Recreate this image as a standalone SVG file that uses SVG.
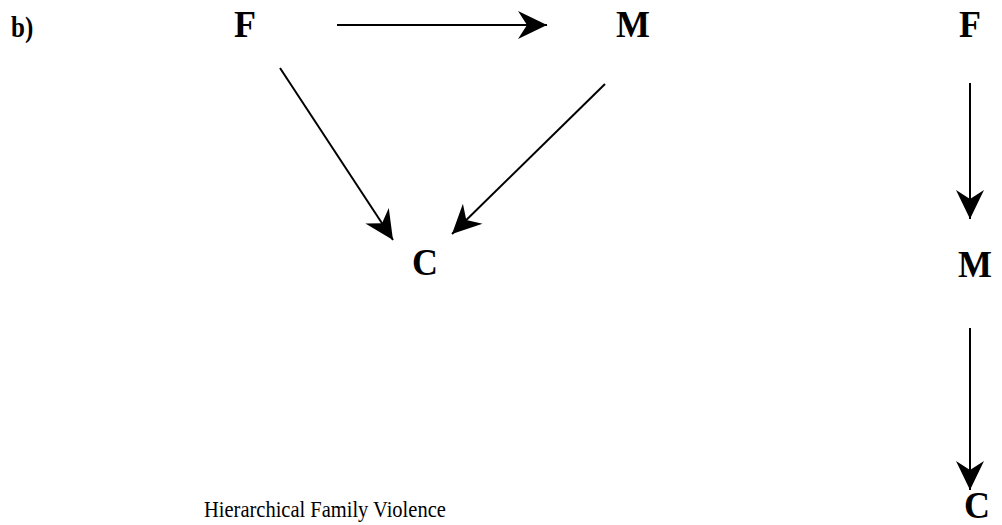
<svg xmlns="http://www.w3.org/2000/svg" width="1002" height="525" viewBox="0 0 1002 525">
<style>
.n{font-family:"Liberation Serif","Times New Roman",serif;font-weight:bold;font-size:36px;fill:#000}
.lbl{font-family:"Liberation Serif","Times New Roman",serif;font-weight:bold;font-size:25px;fill:#000}
.cap{font-family:"Liberation Serif","Times New Roman",serif;font-size:20.5px;fill:#000}
.e{stroke:#000;stroke-width:2;fill:none;marker-end:url(#ah)}
</style>
<defs>
<marker id="ah" markerUnits="userSpaceOnUse" viewBox="-32 -17 34 34" refX="0" refY="0" markerWidth="34" markerHeight="34" orient="auto">
<path d="M0,0 L-29,-14 L-20,0 L-29,14 Z" fill="#000"/>
</marker>
</defs>
<rect width="1002" height="525" fill="#fff"/>
<text class="lbl" transform="translate(11,37) scale(1,1.15)">b)</text>
<g id="edges">
<line class="e" x1="337" y1="25" x2="547" y2="25"/>
<line class="e" x1="280" y1="68" x2="393" y2="240"/>
<line class="e" x1="605" y1="84" x2="452" y2="234"/>
<line class="e" x1="970" y1="83" x2="970" y2="219"/>
<line class="e" x1="970" y1="328" x2="970" y2="490"/>
</g>
<g id="nodeF1"><text class="n" transform="translate(234,37) scale(1,1.08)">F</text></g>
<g id="nodeM1"><text class="n" transform="translate(616,37) scale(1,1.08)">M</text></g>
<g id="nodeC1"><text class="n" transform="translate(412,275) scale(1,1.08)">C</text></g>
<g id="nodeF2"><text class="n" transform="translate(959,37) scale(1,1.08)">F</text></g>
<g id="nodeM2"><text class="n" transform="translate(958,277) scale(1,1.08)">M</text></g>
<g id="nodeC2"><text class="n" transform="translate(964,518) scale(1,1.08)">C</text></g>
<text class="cap" transform="translate(204,517) scale(1,1.1)">Hierarchical Family Violence</text>
</svg>
